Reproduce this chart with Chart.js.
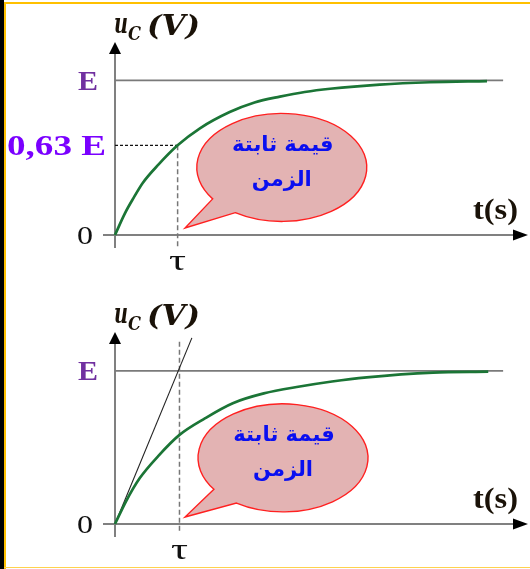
<!DOCTYPE html>
<html>
<head>
<meta charset="utf-8">
<script src="https://cdn.jsdelivr.net/npm/chart.js@4"></script>
<style>
  html, body { margin: 0; padding: 0; background: #ffffff; }
  body { width: 530px; height: 569px; position: relative; overflow: hidden; }
  canvas { position: absolute; left: 0; }
  #c1 { top: 0; }
  #c2 { top: 290px; }
  .b { position: absolute; z-index: 5; }
</style>
</head>
<body>
<canvas id="c1" width="530" height="290"></canvas>
<canvas id="c2" width="530" height="279"></canvas>
<div class="b" style="left:0;top:0;width:4px;height:569px;background:#000;"></div>
<div class="b" style="left:4px;top:2px;width:2px;height:567px;background:#ffc000;"></div>
<div class="b" style="left:4px;top:2px;width:526px;height:2px;background:#ffc000;"></div>
<div class="b" style="left:4px;top:567px;width:526px;height:1px;background:#ffd24d;"></div>
<script>
// ---------- data (t in units of tau, u in units of E) ----------
const TIME_TOP = [0, 0.16, 0.30, 0.45, 0.70, 1.01, 1.37, 1.85, 2.25, 2.66, 3.06, 3.47, 4.27, 5.08, 6.0];
const UC_TOP   = [0, 0.14, 0.24, 0.338, 0.455, 0.58, 0.69, 0.795, 0.857, 0.895, 0.925, 0.946, 0.973, 0.988, 0.995];
const TIME_BOTTOM = [0, 0.18, 0.40, 0.70, 1.04, 1.45, 1.90, 2.40, 2.98, 3.50, 4.06, 5.13, 6.02];
const UC_BOTTOM   = [0, 0.15, 0.30, 0.445, 0.582, 0.69, 0.789, 0.853, 0.898, 0.931, 0.958, 0.989, 0.995];
const TANGENT_T = [0, 1.24];
const TANGENT_U = [0, 1.216];
const TAU_TOP = 1.01, TAU_BOTTOM = 1.04;
const UC_AT_TAU = 0.58;
const E_LINE_END = 6.26;
const Y_TICK_LABELS_TOP = ['E', '0,63 E', '0'];
const Y_TICK_VALUES_TOP = [1, UC_AT_TAU, 0];
const Y_TICK_LABELS_BOTTOM = ['E', '0'];
const Y_TICK_VALUES_BOTTOM = [1, 0];
const X_TICK_LABEL = 'τ';
const Y_AXIS_TITLE = ['u', 'C', '(V)'];
const X_AXIS_TITLE = 't(s)';
const BUBBLE_TEXT = ['قيمة ثابتة', 'الزمن'];

function pts(xs, ys) { return xs.map((x, i) => ({ x: x, y: ys[i] })); }

function fitText(ctx, text, x, y, width) {
  const w = ctx.measureText(text).width;
  ctx.save();
  ctx.translate(x, y);
  ctx.scale(width / w, 1);
  ctx.textAlign = 'left';
  ctx.fillText(text, 0, 0);
  ctx.restore();
}

function drawPanel(chart, o) {
  const ctx = chart.ctx, xs = chart.scales.x, ys = chart.scales.y;
  const X = v => xs.getPixelForValue(v), Y = v => ys.getPixelForValue(v);
  const x0 = X(0), y0 = Y(0);
  ctx.save();
  ctx.strokeStyle = '#808080'; ctx.lineWidth = 2;
  ctx.beginPath();
  ctx.moveTo(x0 - 12, y0); ctx.lineTo(516, y0);
  ctx.moveTo(x0, y0 + 13); ctx.lineTo(x0, o.arrowTop + 10);
  ctx.stroke();
  ctx.fillStyle = '#000';
  ctx.beginPath();
  ctx.moveTo(x0, o.arrowTop); ctx.lineTo(x0 - 6, o.arrowTop + 12); ctx.lineTo(x0 + 6, o.arrowTop + 12); ctx.closePath();
  ctx.fill();
  ctx.beginPath();
  ctx.moveTo(528, y0); ctx.lineTo(513, y0 - 5.5); ctx.lineTo(513, y0 + 5.5); ctx.closePath();
  ctx.fill();
  ctx.restore();
}

function drawLabels(chart, o) {
  const ctx = chart.ctx, xs = chart.scales.x, ys = chart.scales.y;
  const X = v => xs.getPixelForValue(v), Y = v => ys.getPixelForValue(v);
  ctx.save();
  ctx.textBaseline = 'alphabetic';
  o.yLabels.forEach((lab, i) => {
    const y = Y(o.yValues[i]);
    if (lab === 'E') {
      ctx.font = 'bold 27px "Liberation Serif"'; ctx.fillStyle = '#7030a0';
      fitText(ctx, lab, 78, y + 9.5, 20);
    } else if (lab === '0') {
      ctx.font = '26px "Liberation Serif"'; ctx.fillStyle = '#111';
      fitText(ctx, lab, 77, y + 8.5, 16);
    } else {
      ctx.font = 'bold 29px "Liberation Serif"'; ctx.fillStyle = '#7a00ff';
      fitText(ctx, lab, 7, y + 10, 99);
    }
  });
  ctx.font = '30px "Liberation Serif"'; ctx.fillStyle = '#111';
  fitText(ctx, X_TICK_LABEL, X(o.tau) - 8.5, Y(0) + 35, 17);
  ctx.font = 'bold 29px "Liberation Serif"'; ctx.fillStyle = '#1a1208';
  fitText(ctx, X_AXIS_TITLE, 473, Y(0) - 16, 45);
  const by = o.titleBase;
  ctx.fillStyle = '#1a1208';
  ctx.font = 'italic bold 28px "DejaVu Serif"';
  fitText(ctx, Y_AXIS_TITLE[0], 114, by, 14);
  ctx.font = 'italic bold 19px "DejaVu Serif"';
  fitText(ctx, Y_AXIS_TITLE[1], 128, by + 7, 13);
  ctx.font = 'italic bold 27px "DejaVu Serif"';
  fitText(ctx, Y_AXIS_TITLE[2], 147, by + 2, 53);
  // bubble
  const cx = X(o.bubbleT), cy = Y(o.bubbleU), rx = 85, ry = 54;
  const a1 = 2.52, a2 = 2.15;
  ctx.beginPath();
  ctx.ellipse(cx, cy, rx, ry, 0, a1, a2 + Math.PI * 2, false);
  ctx.lineTo(X(0) + 70, Y(0) - 7);
  ctx.closePath();
  ctx.fillStyle = '#e3b3b3'; ctx.fill();
  ctx.strokeStyle = '#ff2020'; ctx.lineWidth = 1.4; ctx.stroke();
  ctx.fillStyle = '#0a0ff0'; ctx.textAlign = 'center'; ctx.textBaseline = 'middle';
  ctx.font = 'bold 21px "DejaVu Sans"';
  ctx.fillText(BUBBLE_TEXT[0], cx + 1, cy - 22);
  ctx.fillText(BUBBLE_TEXT[1], cx, cy + 13);
  ctx.restore();
}

function makeChart(id, datasets, pad, ymax, o) {
  return new Chart(document.getElementById(id), {
    type: 'scatter',
    data: { datasets: datasets },
    options: {
      responsive: false, animation: false, devicePixelRatio: 1,
      layout: { padding: pad },
      plugins: { legend: { display: false }, tooltip: { enabled: false } },
      elements: { point: { radius: 0, hoverRadius: 0 } },
      scales: {
        x: { type: 'linear', min: 0, max: 6.5, display: false },
        y: { type: 'linear', min: 0, max: ymax, display: false }
      }
    },
    plugins: [{
      id: 'deco',
      beforeDatasetsDraw(chart) { drawPanel(chart, o); },
      afterDatasetsDraw(chart) { drawLabels(chart, o); }
    }]
  });
}

const lineDs = (data, color, width, dash, extra) => Object.assign({
  data: data, showLine: true, borderColor: color, borderWidth: width,
  borderDash: dash || [], pointRadius: 0, clip: false, tension: 0
}, extra || {});

makeChart('c1', [
  lineDs(pts(TIME_TOP, UC_TOP), '#1b7536', 2.7, null, { cubicInterpolationMode: 'monotone' }),
  lineDs([{ x: 0, y: UC_AT_TAU }, { x: TAU_TOP, y: UC_AT_TAU }], '#111', 1.3, [3, 2]),
  lineDs([{ x: TAU_TOP, y: UC_AT_TAU }, { x: TAU_TOP, y: -0.085 }], '#777', 1.5, [5, 3]),
  lineDs([{ x: 0, y: 1 }, { x: E_LINE_END, y: 1 }], '#7a7a7a', 1.6)
], { left: 115, right: 12, top: 34, bottom: 55 }, 1.3,
  { arrowTop: 42, tau: TAU_TOP, yLabels: Y_TICK_LABELS_TOP, yValues: Y_TICK_VALUES_TOP,
    titleBase: 33, bubbleT: 2.69, bubbleU: 0.437 });

makeChart('c2', [
  lineDs(pts(TIME_BOTTOM, UC_BOTTOM), '#1b7536', 2.7, null, { cubicInterpolationMode: 'monotone' }),
  lineDs(pts(TANGENT_T, TANGENT_U), '#222', 1.1),
  lineDs([{ x: TAU_BOTTOM, y: 1.19 }, { x: TAU_BOTTOM, y: -0.06 }], '#777', 1.5, [5, 3]),
  lineDs([{ x: 0, y: 1 }, { x: E_LINE_END, y: 1 }], '#7a7a7a', 1.6)
], { left: 115, right: 12, top: 35, bottom: 45 }, 1.3,
  { arrowTop: 42, tau: TAU_BOTTOM, yLabels: Y_TICK_LABELS_BOTTOM, yValues: Y_TICK_VALUES_BOTTOM,
    titleBase: 33, bubbleT: 2.71, bubbleU: 0.432 });
</script>
</body>
</html>
